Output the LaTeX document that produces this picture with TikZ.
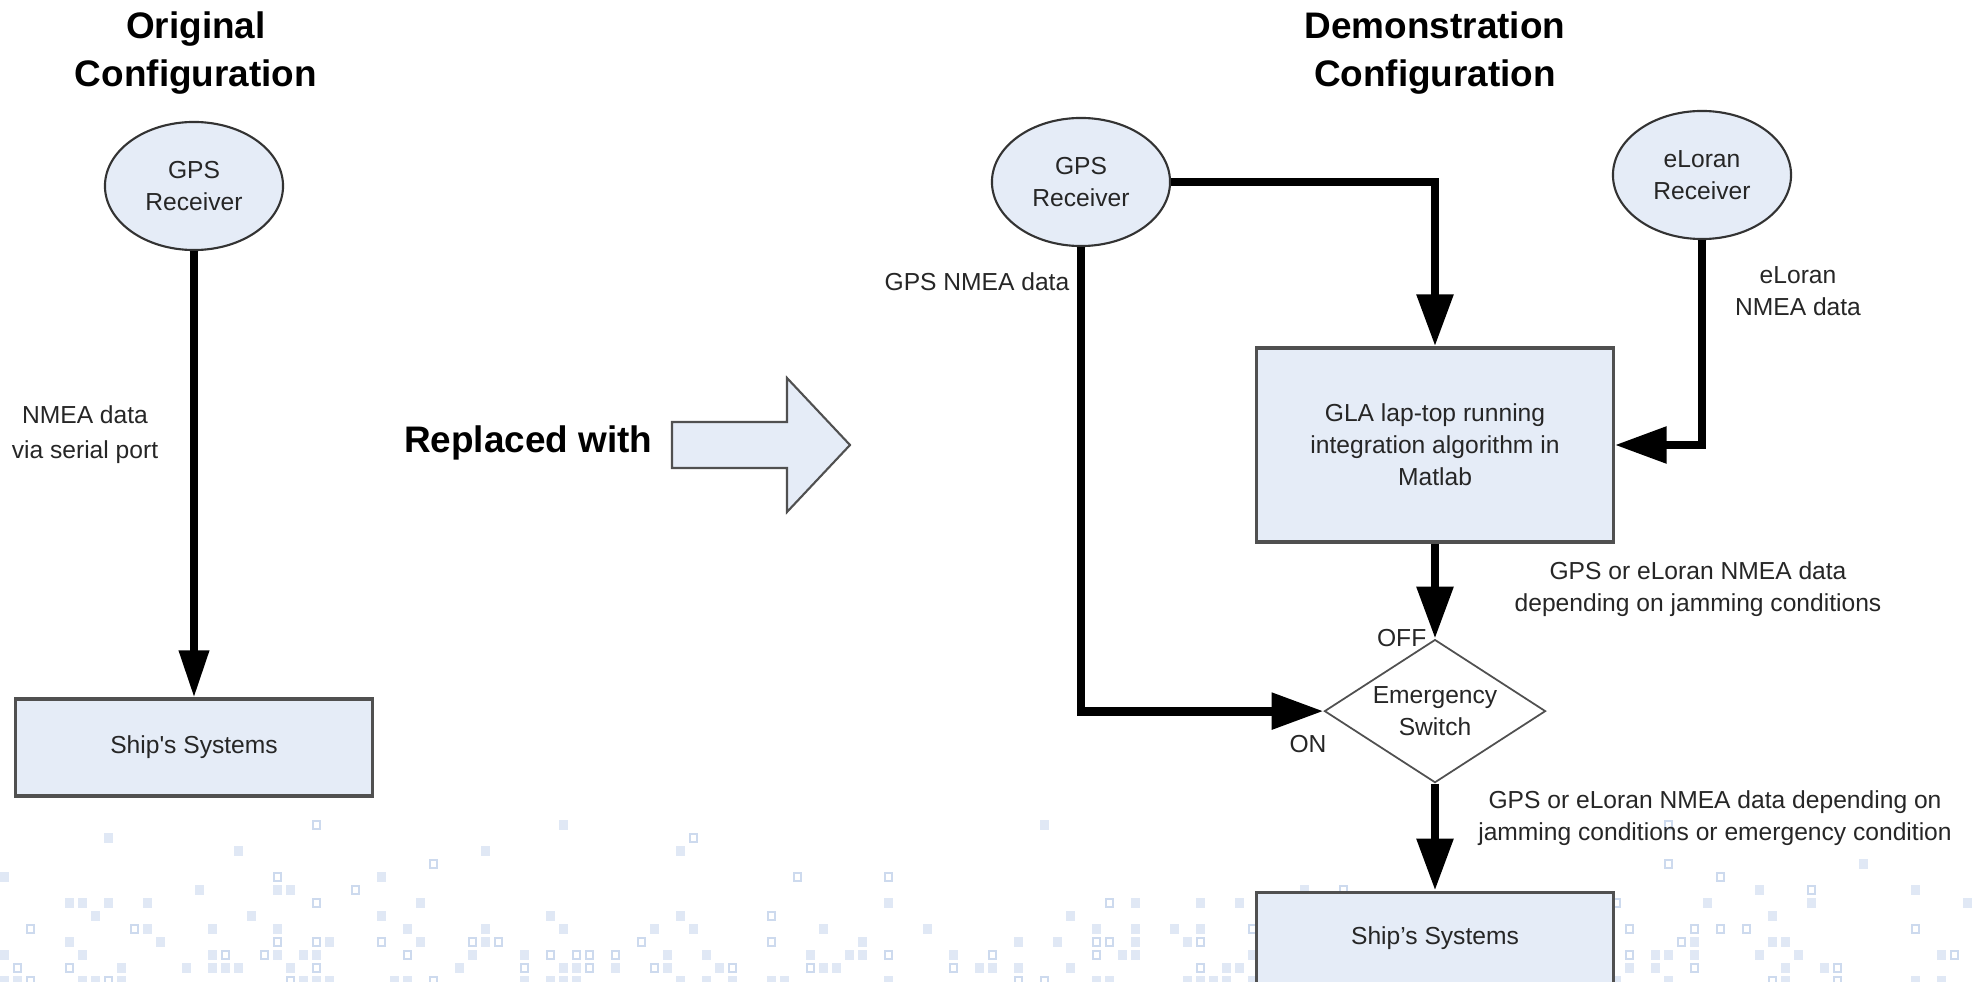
\documentclass[tikz,border=0pt]{standalone}
\usepackage{fontspec}
\setmainfont{Liberation Sans}
\usetikzlibrary{positioning,arrows.meta,shapes.geometric}

\definecolor{boxblue}{RGB}{229,236,247}
\definecolor{edgegray}{RGB}{80,80,80}
\definecolor{dotblue}{RGB}{224,232,245}
\definecolor{dotline}{RGB}{205,218,238}

\begin{document}
\begin{tikzpicture}[
    x=0.01cm,y=0.01cm,
    txt/.style={font=\fontsize{7}{9.1}\selectfont,text=black!85},
    recv/.style={ellipse,draw=black!80,line width=0.6pt,fill=boxblue,minimum width=1.78cm,minimum height=1.28cm,inner sep=0pt,align=center,txt},
    box/.style={rectangle,draw=edgegray,line width=0.9pt,fill=boxblue,minimum width=3.56cm,align=center,txt},
    switchbox/.style={diamond,draw=edgegray,line width=0.5pt,fill=white,aspect=1.55,minimum width=2.21cm,minimum height=1.43cm,inner sep=0pt,align=center,txt},
    lbl/.style={inner sep=0pt,align=center,txt},
    title/.style={inner sep=0pt,align=center,font=\fontsize{10.5}{13.7}\selectfont\bfseries},
    flow/.style={line width=2.5pt,-{Triangle[length=5.2mm,width=3.5mm]}},
    thinflow/.style={line width=2pt,-{Triangle[length=4.7mm,width=2.9mm]}}
]
    \useasboundingbox (0,0) rectangle (1981,-982);

    % faint squares along the bottom
    \pgfmathsetseed{11}
    \foreach \i in {0,...,151}{
      \foreach \j in {0,...,12}{
        \pgfmathsetmacro{\dotr}{rnd}
        \pgfmathsetmacro{\dotp}{0.01+0.32*(\j/12)^2}
        \ifdim\dotr pt<\dotp pt
          \pgfmathsetmacro{\dots}{rnd}
          \ifdim\dots pt<0.3pt
            \draw[dotline,line width=0.8pt] (\i*13+1,-820-\j*13-1) rectangle ++(7,-8);
          \else
            \fill[dotblue] (\i*13,-820-\j*13) rectangle ++(9,-10);
          \fi
        \fi
      }
    }

    % Titles
    \node[title] (origT) at (196,-53) {Original\\Configuration};
    \node[title] (demoT) at (1435,-53) {Demonstration\\Configuration};

    % Original configuration
    \node[recv] (gpsL) at (194,-186) {GPS\\Receiver};
    \node[box,minimum height=0.97cm,below=4.46cm of gpsL] (shipL) {Ship\textquotesingle s Systems};
    \node[lbl,font=\fontsize{7}{10}\selectfont] (serialLbl) at (85,-435) {NMEA data\\via serial port};
    \draw[thinflow] (gpsL) -- (shipL);

    % Replaced with
    \node[title,anchor=east] (replLbl) at (653,-443) {Replaced with};
    \draw[edgegray,line width=0.6pt,fill=boxblue] (672,-422) -- (787,-422) -- (787,-378)
        -- (850,-445) -- (787,-512) -- (787,-468) -- (672,-468) -- cycle;

    % Demonstration configuration
    \node[recv] (gpsR) at (1081,-182) {GPS\\Receiver};
    \node[recv] (loran) at (1702,-175) {eLoran\\Receiver};
    \node[box,minimum height=1.94cm] (gla) at (1435,-445) {GLA lap-top running\\integration algorithm in\\Matlab};
    \node[switchbox,below=0.95cm of gla] (switch) {Emergency\\Switch};
    \node[box,minimum height=0.92cm,below=1.07cm of switch] (shipR) {Ship's Systems};

    \node[lbl,anchor=east] (gpsLbl) at (1070,-282) {GPS NMEA data};
    \node[lbl] (loranLbl) at (1798,-291) {eLoran\\NMEA data};
    \node[lbl] (jamLbl) at (1698,-589) {GPS or eLoran NMEA data\\depending on jamming conditions};
    \node[lbl] (outLbl) at (1715,-818) {GPS or eLoran NMEA data depending on\\jamming conditions or emergency condition};
    \node[lbl,anchor=east] (offLbl) at (1427,-638) {OFF};
    \node[lbl] (onLbl) at (1308,-744) {ON};

    % Arrows
    \draw[flow] (gpsR.east) -| (gla.north);
    \draw[flow] (loran.south) |- (gla.east);
    \draw[flow] (gpsR.south) |- (switch.west);
    \draw[flow] (gla) -- (switch);
    \draw[flow] (switch) -- (shipR);
\end{tikzpicture}
\end{document}
